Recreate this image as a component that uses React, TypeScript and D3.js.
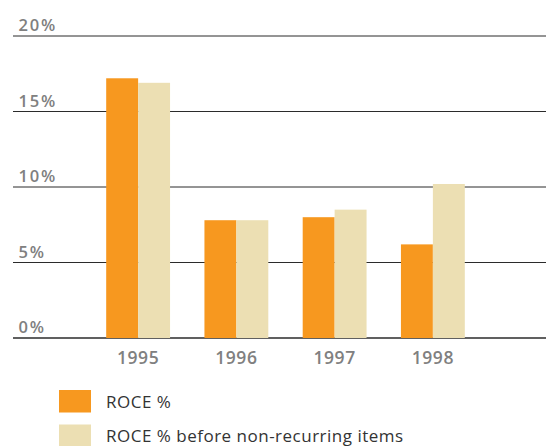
import React from "react";
import * as d3 from "d3";

// ROCE by year, as a percentage
const years = ["1995", "1996", "1997", "1998"];
const roce = [17.2, 7.8, 8.0, 6.2];
const roceBeforeNonRecurring = [16.9, 7.8, 8.5, 10.2];
const yTicks = [0, 5, 10, 15, 20];
const seriesNames = ["ROCE %", "ROCE % before non-recurring items"];
const seriesColors = ["#F7981F", "#ECDFB3"];

const W = 546;
const H = 446;
const FONT = "'Open Sans', 'DejaVu Sans', sans-serif";

export default function App() {
  const x = d3
    .scaleBand<string>()
    .domain(years)
    .range([89, 482])
    .paddingInner(0.35)
    .paddingOuter(0.175);
  const inner = d3
    .scaleBand<number>()
    .domain([0, 1])
    .range([0, x.bandwidth()]);
  const y = d3.scaleLinear().domain([0, 20]).range([338, 36]);

  const series = [roce, roceBeforeNonRecurring];

  return (
    <svg
      width={W}
      height={H}
      style={{ position: "absolute", left: 0, top: 0, background: "#fff" }}
    >
      {/* horizontal gridlines and their labels */}
      {yTicks.map((t) => (
        <g key={t}>
          <line
            x1={13}
            x2={W}
            y1={y(t)}
            y2={y(t)}
            stroke="#2b2b2b"
            strokeWidth={t === 0 ? 1.4 : 1}
          />
          <text
            x={18.5}
            y={y(t) - 5}
            fontFamily={FONT}
            fontSize={16.5}
            fontWeight={600}
            letterSpacing={1.8}
            fill="#808080"
          >
            {t}%
          </text>
        </g>
      ))}

      {/* bars */}
      {series.map((vals, si) =>
        years.map((yr, i) => (
          <rect
            key={`${si}-${yr}`}
            x={(x(yr) as number) + (inner(si) as number)}
            y={y(vals[i])}
            width={inner.bandwidth()}
            height={y(0) - y(vals[i])}
            fill={seriesColors[si]}
          />
        ))
      )}

      {/* year labels */}
      {years.map((yr) => (
        <text
          key={yr}
          x={(x(yr) as number) + x.bandwidth() / 2}
          y={364}
          textAnchor="middle"
          fontFamily={FONT}
          fontSize={17.5}
          fontWeight={600}
          letterSpacing={0.5}
          fill="#808080"
        >
          {yr}
        </text>
      ))}

      {/* legend */}
      {seriesNames.map((name, i) => (
        <g key={name} transform={`translate(0, ${i * 34.5})`}>
          <rect x={59} y={390} width={32} height={22.5} fill={seriesColors[i]} />
          <text
            x={106}
            y={407.5}
            fontFamily={FONT}
            fontSize={17}
            letterSpacing={0.5}
            fill="#333"
          >
            {name}
          </text>
        </g>
      ))}
    </svg>
  );
}
